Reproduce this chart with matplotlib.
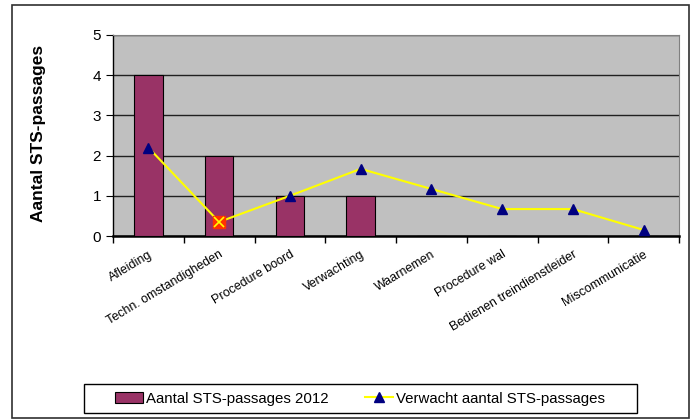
import matplotlib.pyplot as plt
from matplotlib.patches import Rectangle

plt.rcParams['font.family'] = ['Liberation Sans', 'DejaVu Sans']

## data
categorieen = ["Afleiding", "Techn. omstandigheden", "Procedure boord", "Verwachting",
               "Waarnemen", "Procedure wal", "Bedienen treindienstleider", "Miscommunicatie"]
aantal_2012 = [4, 2, 1, 1, 0, 0, 0, 0]
verwacht = [2.2, 0.35, 1.0, 1.67, 1.17, 0.67, 0.67, 0.15]
afwijkend_punt = 1  # punt met ander marker
## fin data

fig = plt.figure(figsize=(6.99, 4.2), dpi=100)
ax = fig.add_axes([113 / 699, 1 - 236 / 420, 566 / 699, 201 / 420])

x = list(range(len(categorieen)))
ax.set_facecolor('#C0C0C0')
staven = ax.bar(x, aantal_2012, width=0.4, color='#993366', edgecolor='black', linewidth=0.8,
                zorder=3)
lijn, = ax.plot(x, verwacht, color='#FFFF00', linewidth=1.5, marker='^', markersize=7,
                markerfacecolor='#000080', markeredgecolor='#000080', zorder=4)
ax.plot(x[afwijkend_punt], verwacht[afwijkend_punt], marker='s', markersize=8,
        color='#FF3300', zorder=5)
ax.plot(x[afwijkend_punt], verwacht[afwijkend_punt], marker='x', markersize=7,
        color='#FFFF00', markeredgewidth=1.2, zorder=6)

ax.set_xlim(-0.5, len(categorieen) - 0.5)
ax.set_ylim(0, 5)
ax.set_yticks([0, 1, 2, 3, 4, 5])
ax.yaxis.grid(True, color='#202020', linewidth=1.0, zorder=1)
ax.set_axisbelow(True)

# ticks tussen categorieen
ax.set_xticks([i - 0.5 for i in range(len(categorieen) + 1)])
ax.set_xticklabels([])
ax.set_xticks(x, minor=True)
ax.set_xticklabels(categorieen, minor=True, rotation=31, ha='right',
                   rotation_mode='anchor', fontsize=9)
ax.tick_params(axis='x', which='major', direction='out', length=5, width=1)
ax.tick_params(axis='x', which='minor', length=0, pad=9)
ax.tick_params(axis='y', direction='out', length=5, labelsize=11)

ax.spines['top'].set_color('#808080')
ax.spines['right'].set_color('#808080')
ax.spines['left'].set_linewidth(1.0)
ax.spines['bottom'].set_linewidth(1.8)

ax.set_ylabel('Aantal STS-passages', fontsize=12.5, fontweight='bold')
ax.yaxis.set_label_coords(-0.118, 0.51)

##legenda
leg = fig.legend([staven, lijn], ['Aantal STS-passages 2012', 'Verwacht aantal STS-passages'],
                 loc='center', bbox_to_anchor=(360 / 699, 1 - 398.5 / 420), ncol=2,
                 frameon=False, fontsize=10.8,
                 handlelength=1.85, handletextpad=0.2, columnspacing=2.4)
fig.patches.append(Rectangle((84 / 699, 1 - 413 / 420), 553 / 699, 29 / 420,
                             transform=fig.transFigure, fill=False,
                             edgecolor='black', linewidth=1.0))

# kader rond de hele grafiek
fig.patches.append(Rectangle((12 / 699, 2 / 420), 677 / 699, 413 / 420,
                             transform=fig.transFigure, fill=False,
                             edgecolor='#303030', linewidth=1.2))

plt.savefig('out.png', dpi=100)
